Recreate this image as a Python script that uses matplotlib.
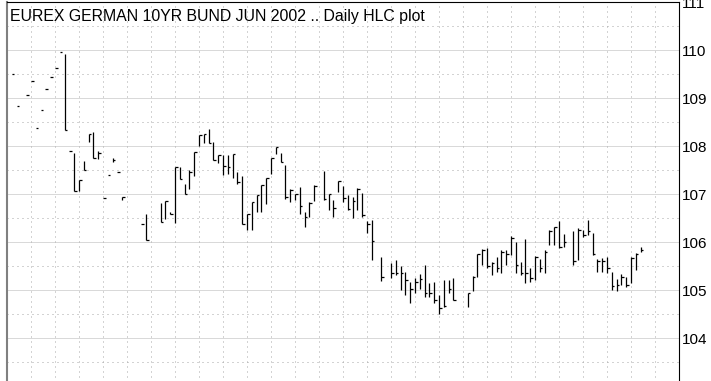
import numpy as np
import matplotlib.pyplot as plt
from matplotlib.ticker import MultipleLocator

plt.rcParams['font.family'] = ['Liberation Sans', 'DejaVu Sans']

nan = np.nan
title = 'EUREX GERMAN 10YR BUND JUN 2002 .. Daily HLC plot'

# one slot per trading day, nan where nothing traded
high = [109.50, 108.83, nan, 109.06, 109.35, 108.38, 108.76, 109.18, 109.44, 109.63,
        109.96, 109.92, 107.90, 107.85, 107.29, 107.69, 108.25, 108.29, 107.90, 106.92,
        107.40, 107.75, 107.45, 106.93, nan, nan, nan, 106.37, 106.59, nan,
        nan, 106.82, 106.85, 106.63, 107.56, 107.56, 107.21, 107.49, 107.87, 108.22,
        108.26, 108.36, 108.08, 107.82, 107.81, 107.81, 107.84, 107.45, 107.37, 106.59,
        106.83, 106.97, 107.18, 107.34, 107.75, 107.98, 107.86, 107.60, 107.11, 107.01,
        107.15, 106.63, 106.83, 107.18, nan, 107.48, 107.01, 106.87, 107.28, 107.17,
        106.97, 106.94, 107.12, 107.03, 106.44, 106.45, nan, 105.69, nan, 105.57,
        105.62, 105.49, 105.38, 105.17, 105.26, 105.33, 105.52, 105.14, 105.17, 104.90,
        105.21, 105.21, 105.24, nan, nan, 104.94, 105.29, 105.76, 105.85, 105.87,
        105.59, 105.69, 105.83, 105.83, 106.13, 106.01, 105.59, 106.06, 105.45, 105.71,
        105.64, 105.83, 106.25, 106.32, 106.44, 106.17, nan, 106.22, 106.29, 106.26,
        106.46, 106.18, 105.64, 105.66, 105.68, 105.38, 105.22, 105.33, 105.28, 105.69,
        105.78, 105.90]
low = [109.50, 108.83, nan, 109.06, 109.35, 108.38, 108.76, 109.18, 109.44, 109.63,
       109.96, 108.33, 107.90, 107.07, 107.07, 107.51, 108.09, 107.74, 107.72, 106.92,
       107.40, 107.67, 107.45, 106.88, nan, nan, nan, 106.37, 106.04, nan,
       nan, 106.42, 106.47, 106.58, 106.39, 107.31, 106.99, 107.10, 107.37, 108.00,
       108.06, 108.06, 107.71, 107.65, 107.40, 107.42, 107.34, 107.21, 106.37, 106.24,
       106.26, 106.63, 106.63, 106.80, 107.42, 107.84, 107.67, 106.90, 106.83, 106.87,
       106.59, 106.31, 106.52, 106.86, nan, 106.88, 106.66, 106.53, 107.05, 106.84,
       106.66, 106.49, 106.66, 106.52, 106.18, 105.63, nan, 105.19, nan, 105.24,
       105.31, 105.00, 104.90, 104.72, 104.94, 105.03, 104.86, 104.86, 104.72, 104.50,
       104.65, 104.93, 104.79, nan, nan, 104.64, 104.97, 105.28, 105.52, 105.45,
       105.31, 105.38, 105.35, 105.52, 105.73, 105.35, 105.31, 105.14, 105.17, 105.21,
       105.38, 105.35, 105.94, 105.94, 105.87, 105.90, nan, 105.52, 105.63, 106.10,
       106.15, 105.73, 105.38, 105.38, 105.35, 105.00, 104.97, 105.10, 105.07, 105.15,
       105.42, 105.80]
close = [109.50, 108.83, nan, 109.06, 109.35, 108.38, 108.76, 109.18, 109.44, 109.63,
         109.96, 108.33, 107.90, 107.07, 107.29, 107.51, 108.25, 107.76, 107.86, 106.92,
         107.40, 107.71, 107.45, 106.93, nan, nan, nan, 106.37, 106.04, nan,
         nan, 106.42, 106.85, 106.58, 107.56, 107.31, 106.99, 107.45, 107.87, 108.22,
         108.26, 108.06, 107.71, 107.82, 107.58, 107.56, 107.84, 107.24, 106.37, 106.58,
         106.83, 106.97, 107.18, 107.34, 107.75, 107.98, 107.67, 106.94, 107.09, 106.99,
         106.74, 106.53, 106.82, 107.16, nan, 106.90, 106.99, 106.70, 107.27, 106.92,
         106.68, 106.86, 107.10, 106.56, 106.38, 106.02, nan, 105.28, nan, 105.36,
         105.35, 105.36, 105.21, 105.03, 105.17, 105.23, 104.93, 104.94, 104.79, 104.62,
         104.67, 105.03, 104.79, nan, nan, 104.93, 105.28, 105.75, 105.83, 105.49,
         105.57, 105.45, 105.80, 105.75, 106.08, 105.52, 105.35, 105.36, 105.24, 105.68,
         105.45, 105.80, 106.23, 106.31, 105.90, 105.99, nan, 105.61, 106.26, 106.15,
         106.22, 105.75, 105.61, 105.61, 105.45, 105.08, 105.10, 105.28, 105.10, 105.66,
         105.75, 105.83]

high = np.array(high)
low = np.array(low)
close = np.array(close)
days = np.arange(len(close))
ok = ~np.isnan(close)

fig = plt.figure(figsize=(7.11, 3.81), dpi=100)
# plot box runs off the bottom edge, 103..111 on the price scale
ax = fig.add_axes([7 / 711, -5 / 381, 672 / 711, 384 / 381])

ax.vlines(days[ok], low[ok], high[ok], color='black', lw=0.9)
ax.hlines(close[ok], days[ok], days[ok] + 0.55, color='black', lw=0.9)

ax.set_xlim(-1, 139)
ax.set_ylim(103, 111)

# weekly vertical grid, whole and half point horizontal grid
ax.set_xticks(np.arange(-1, 140, 5))
ax.yaxis.set_major_locator(MultipleLocator(1))
ax.yaxis.set_minor_locator(MultipleLocator(0.5))
ax.grid(axis='x', color='#a8a8a8', lw=0.72, linestyle=(0, (1, 4)))
ax.grid(axis='y', which='major', color='#b4b4b4', lw=0.72, linestyle=(0, (1, 1)))
ax.grid(axis='y', which='minor', color='#a8a8a8', lw=0.72, linestyle=(0, (1, 4)))
ax.set_axisbelow(True)

ax.yaxis.tick_right()
ax.tick_params(axis='x', length=0, labelbottom=False)
ax.tick_params(axis='y', which='both', length=0, pad=2, labelsize=11)

ax.spines['left'].set_color('#808080')
ax.spines['left'].set_linewidth(1.5)
ax.spines['top'].set_linewidth(0.8)
ax.spines['right'].set_linewidth(0.8)
ax.spines['bottom'].set_visible(False)

ax.text(3 / 672, 1 - 15 / 384, title, transform=ax.transAxes,
        fontsize=11.4, va='center', ha='left')

fig.savefig('out.png', dpi=100)
